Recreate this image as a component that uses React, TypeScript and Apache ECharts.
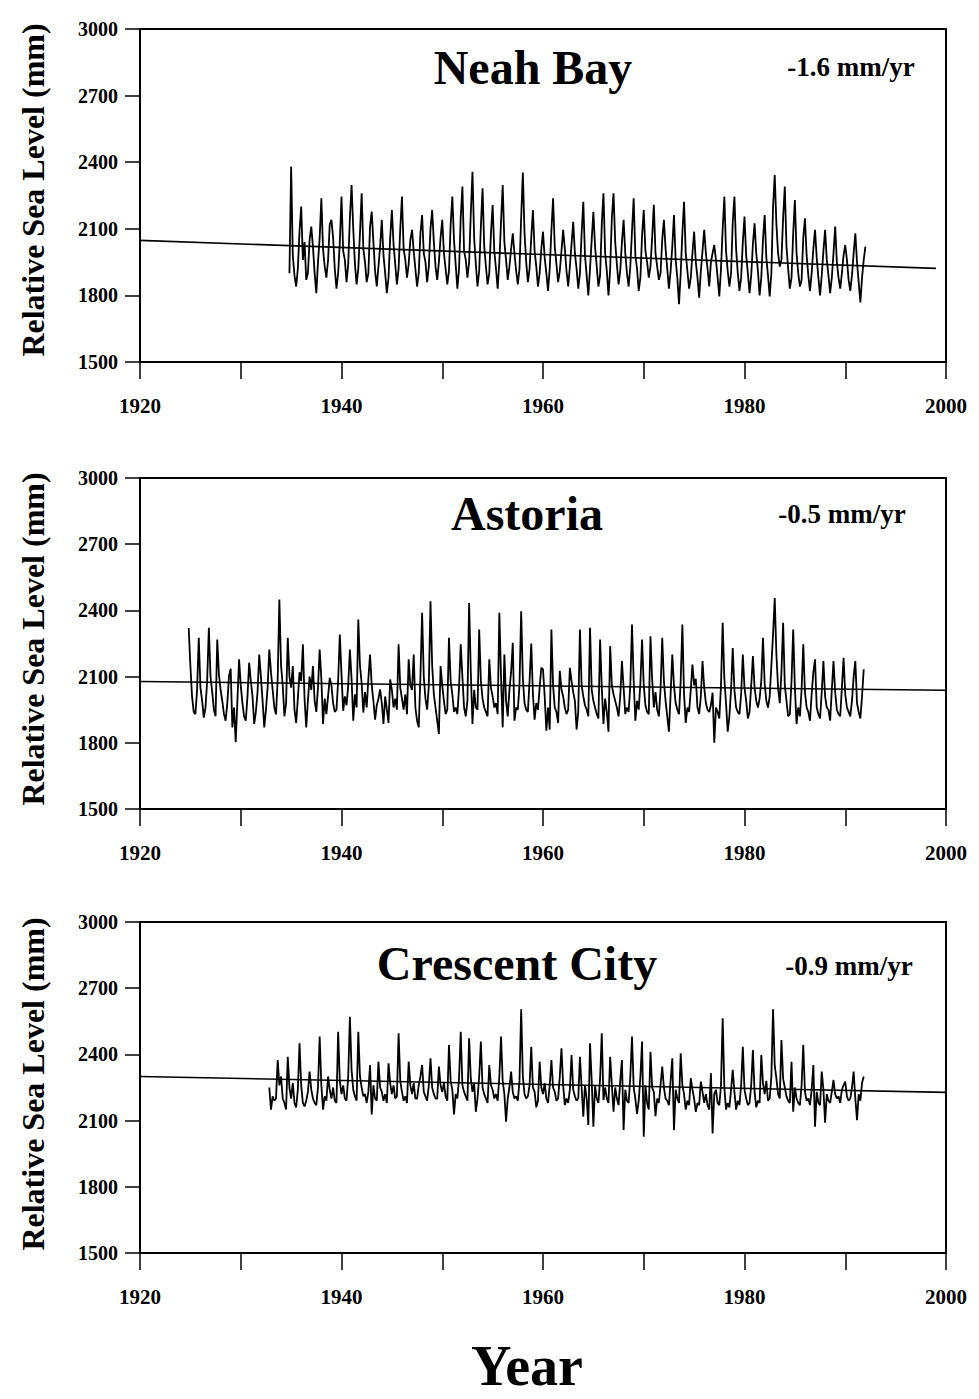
import React, { useEffect, useRef } from "react";
import * as echarts from "echarts";

// Monthly-ish sea level readings (mm), six per year: Jan, Mar, May, Jul, Sep, Nov.
// null marks months before a record begins.
const neahBayStart = 1934;
const neahBayRows: (number | null)[][] = [
  [null, null, null, null, null, 1900],
  [2380, 1980, 1890, 1840, 1920, 2090],
  [2200, 1960, 2040, 1870, 1900, 2050],
  [2110, 2020, 1900, 1810, 1950, 2060],
  [2238, 2010, 1930, 1880, 1960, 2120],
  [2140, 2060, 1920, 1830, 1900, 2040],
  [2245, 2000, 1960, 1860, 1940, 2150],
  [2297, 2100, 1940, 1850, 1920, 2080],
  [2260, 2010, 1950, 1860, 1900, 2110],
  [2177, 2040, 1910, 1840, 1930, 2020],
  [2140, 1980, 1900, 1810, 1880, 2060],
  [2185, 2030, 1940, 1850, 1920, 2100],
  [2245, 2010, 1960, 1880, 1940, 2050],
  [2095, 2000, 1920, 1840, 1900, 2080],
  [2162, 1990, 1950, 1860, 1930, 2100],
  [2185, 2040, 1930, 1870, 1950, 2060],
  [2140, 1990, 1920, 1850, 1910, 2120],
  [2245, 2050, 1940, 1830, 1920, 2150],
  [2290, 2000, 1960, 1880, 1950, 2170],
  [2357, 2060, 1940, 1840, 1910, 2110],
  [2282, 2020, 1930, 1850, 1900, 2080],
  [2207, 2000, 1920, 1830, 1950, 2130],
  [2297, 2040, 1960, 1870, 1930, 2010],
  [2080, 1990, 1910, 1850, 1920, 2150],
  [2353, 2080, 1950, 1860, 1920, 2060],
  [2185, 2000, 1930, 1840, 1900, 2010],
  [2087, 1970, 1900, 1820, 1920, 2090],
  [2237, 2020, 1940, 1860, 1910, 2000],
  [2095, 2010, 1910, 1840, 1930, 2030],
  [2132, 1990, 1920, 1830, 1900, 2080],
  [2222, 1980, 1890, 1800, 1920, 2050],
  [2177, 2020, 1930, 1840, 1890, 2120],
  [2260, 1990, 1910, 1800, 1920, 2150],
  [2260, 2040, 1940, 1850, 1910, 2040],
  [2140, 1990, 1900, 1840, 1930, 2090],
  [2237, 1980, 1920, 1820, 1880, 2070],
  [2185, 2000, 1950, 1880, 1930, 2060],
  [2208, 1990, 1930, 1870, 1900, 2050],
  [2140, 2010, 1920, 1830, 1910, 2020],
  [2162, 1960, 1880, 1760, 1900, 2080],
  [2222, 1990, 1910, 1830, 1880, 1990],
  [2087, 1950, 1880, 1790, 1910, 2000],
  [2095, 1990, 1920, 1840, 1950, 1990],
  [2027, 1960, 1880, 1795, 1920, 2100],
  [2245, 2000, 1910, 1840, 1900, 2130],
  [2245, 2010, 1900, 1820, 1880, 2040],
  [2155, 1980, 1900, 1810, 1890, 2030],
  [2125, 1990, 1910, 1800, 1880, 2050],
  [2162, 1970, 1890, 1795, 1900, 2200],
  [2342, 2120, 1990, 1930, 1960, 2150],
  [2290, 2020, 1920, 1830, 1880, 2080],
  [2230, 1990, 1900, 1840, 1870, 2060],
  [2147, 1980, 1890, 1820, 1900, 2010],
  [2095, 1970, 1880, 1800, 1890, 2000],
  [2095, 1960, 1890, 1810, 1880, 1990],
  [2110, 1950, 1880, 1830, 1900, 1980],
  [2027, 1960, 1870, 1820, 1890, 1990],
  [2080, 1950, 1860, 1768, 1880, 1960],
  [2020],
];

const astoriaStart = 1924;
const astoriaRows: (number | null)[][] = [
  [null, null, null, null, null, 2320],
  [2150, 2010, 1940, 1930, 2040, 2276],
  [2050, 1990, 1914, 1960, 2080, 2321],
  [2100, 2030, 1950, 1920, 2268, 2110],
  [2040, 1990, 1930, 1900, 1980, 2102],
  [2136, 1870, 1960, 1803, 1990, 2178],
  [2060, 1980, 1920, 1900, 2010, 2163],
  [2080, 2010, 1885, 1940, 2030, 2200],
  [2100, 1990, 1870, 1950, 2050, 2223],
  [2120, 2040, 1960, 1929, 2090, 2449],
  [2150, 2060, 1920, 1980, 2276, 2100],
  [2050, 2148, 1950, 1890, 2000, 2120],
  [2080, 2246, 2000, 1870, 1990, 2100],
  [2040, 2148, 1990, 1940, 2050, 2223],
  [2090, 1885, 2000, 1930, 2010, 2094],
  [2060, 1980, 1940, 1950, 2080, 2291],
  [2110, 1945, 2010, 1970, 2060, 2223],
  [2090, 1900, 2020, 1960, 2359, 2150],
  [2070, 1937, 2030, 1960, 2090, 2200],
  [2060, 1990, 1905, 1970, 2000, 2042],
  [1980, 1885, 2010, 1950, 1890, 2087],
  [2040, 1960, 2000, 1950, 2246, 2050],
  [2000, 1950, 2020, 1930, 2178, 2060],
  [2040, 2200, 1960, 1900, 1870, 2100],
  [2389, 2100, 2000, 1950, 2060, 2441],
  [2150, 2020, 1960, 1900, 1840, 2148],
  [2060, 1990, 1930, 1950, 2276, 2080],
  [2020, 1940, 1960, 1930, 2050, 2246],
  [2100, 1960, 1920, 1990, 2434, 2120],
  [1885, 2040, 1960, 1950, 2313, 2080],
  [2000, 1960, 1940, 1920, 2178, 2050],
  [2010, 1960, 1980, 1930, 2389, 2100],
  [1870, 2200, 1990, 1920, 2040, 2120],
  [2253, 1900, 1960, 1950, 2060, 2396],
  [2090, 1980, 1950, 1940, 2080, 2250],
  [2020, 1905, 1980, 1950, 2050, 2140],
  [2133, 2010, 1855, 1960, 1860, 2313],
  [2060, 1960, 1940, 1890, 2126, 2040],
  [2010, 1960, 1930, 1950, 2140, 2080],
  [2030, 1990, 1860, 1940, 2313, 2060],
  [2010, 1970, 1950, 1920, 2321, 2040],
  [1990, 1960, 1930, 1910, 2268, 2050],
  [1885, 2000, 1940, 1850, 2238, 2060],
  [2020, 1990, 1960, 1920, 2010, 2170],
  [2050, 1930, 1960, 1940, 2060, 2336],
  [2080, 1900, 1990, 1950, 2070, 2268],
  [2060, 1970, 1940, 1930, 2283, 2090],
  [1960, 2030, 1950, 1920, 2040, 2276],
  [2080, 1990, 1920, 1850, 2020, 2200],
  [2060, 1980, 1950, 1930, 2080, 2336],
  [2020, 1890, 1960, 1940, 2040, 2155],
  [2060, 2090, 1960, 1930, 2010, 2170],
  [2050, 1980, 1950, 1940, 1970, 2027],
  [1800, 1960, 1940, 1910, 2060, 2344],
  [2090, 1980, 1850, 1920, 2040, 2230],
  [2040, 1960, 1940, 1930, 2020, 2200],
  [2050, 1990, 1910, 1940, 2060, 2193],
  [2050, 1990, 1960, 2000, 2080, 2276],
  [2070, 1990, 1960, 2010, 2150, 2290],
  [2456, 2200, 2050, 1980, 2120, 2344],
  [2060, 1990, 1920, 1930, 2080, 2313],
  [2050, 1885, 1960, 1920, 2040, 2246],
  [2030, 1960, 1940, 1900, 2020, 2120],
  [2178, 1960, 1930, 1910, 2030, 2170],
  [2010, 1960, 1950, 1900, 2040, 2170],
  [2030, 1950, 1930, 1920, 2050, 2185],
  [2020, 1960, 1940, 1920, 1990, 2100],
  [2170, 1980, 1940, 1910, 2010, 2133],
];

const crescentCityStart = 1932;
const crescentCityRows: (number | null)[][] = [
  [null, null, null, null, null, 2250],
  [2150, 2210, 2190, 2200, 2374, 2260],
  [2300, 2200, 2180, 2150, 2389, 2250],
  [2200, 2270, 2180, 2160, 2240, 2450],
  [2260, 2180, 2164, 2190, 2230, 2322],
  [2240, 2200, 2180, 2170, 2250, 2481],
  [2260, 2150, 2210, 2190, 2300, 2240],
  [2200, 2250, 2190, 2180, 2503, 2280],
  [2220, 2260, 2200, 2190, 2300, 2571],
  [2330, 2240, 2210, 2190, 2503, 2300],
  [2250, 2210, 2220, 2180, 2230, 2352],
  [2128, 2260, 2200, 2190, 2367, 2250],
  [2230, 2190, 2220, 2180, 2360, 2270],
  [2220, 2260, 2200, 2210, 2496, 2280],
  [2230, 2190, 2210, 2180, 2367, 2260],
  [2220, 2270, 2200, 2200, 2260, 2300],
  [2352, 2230, 2210, 2190, 2260, 2382],
  [2250, 2220, 2200, 2200, 2345, 2260],
  [2230, 2270, 2210, 2190, 2443, 2280],
  [2240, 2128, 2220, 2200, 2290, 2503],
  [2260, 2230, 2210, 2190, 2473, 2290],
  [2230, 2270, 2140, 2200, 2300, 2458],
  [2250, 2220, 2200, 2180, 2352, 2260],
  [2240, 2200, 2220, 2190, 2300, 2481],
  [2280, 2220, 2095, 2200, 2250, 2322],
  [2230, 2200, 2210, 2190, 2280, 2604],
  [2300, 2220, 2200, 2210, 2260, 2435],
  [2250, 2230, 2160, 2190, 2367, 2250],
  [2220, 2270, 2200, 2180, 2260, 2374],
  [2250, 2230, 2190, 2200, 2300, 2428],
  [2260, 2170, 2200, 2180, 2240, 2397],
  [2240, 2210, 2190, 2200, 2389, 2250],
  [2118, 2260, 2200, 2080, 2450, 2280],
  [2072, 2260, 2200, 2180, 2290, 2496],
  [2193, 2250, 2200, 2180, 2389, 2260],
  [2140, 2250, 2200, 2170, 2280, 2374],
  [2057, 2240, 2190, 2180, 2300, 2481],
  [2250, 2200, 2130, 2190, 2300, 2458],
  [2027, 2260, 2180, 2150, 2412, 2250],
  [2230, 2120, 2200, 2180, 2260, 2345],
  [2250, 2200, 2190, 2170, 2280, 2382],
  [2057, 2240, 2200, 2180, 2405, 2260],
  [2220, 2150, 2190, 2170, 2292, 2240],
  [2200, 2140, 2180, 2170, 2277, 2230],
  [2180, 2220, 2170, 2150, 2315, 2042],
  [2220, 2240, 2180, 2170, 2260, 2564],
  [2250, 2150, 2180, 2160, 2240, 2330],
  [2230, 2150, 2190, 2170, 2260, 2435],
  [2240, 2200, 2170, 2180, 2260, 2420],
  [2230, 2160, 2190, 2180, 2397, 2270],
  [2220, 2280, 2190, 2200, 2300, 2604],
  [2350, 2290, 2220, 2200, 2465, 2290],
  [2250, 2210, 2190, 2180, 2367, 2140],
  [2250, 2200, 2180, 2170, 2260, 2443],
  [2230, 2190, 2200, 2170, 2240, 2352],
  [2072, 2230, 2180, 2170, 2322, 2240],
  [2090, 2220, 2190, 2180, 2230, 2284],
  [2220, 2200, 2210, 2180, 2240, 2260],
  [2277, 2210, 2190, 2200, 2250, 2322],
  [2200, 2102, 2220, 2190, 2270, 2300],
];

// Station names, linear trends (mm/yr) and trend-line anchors
const stationNames = ["Neah Bay", "Astoria", "Crescent City"];
const trendRates = [-1.6, -0.5, -0.9];
const trendStartValues = [2048, 2078, 2300]; // value at 1920
const trendEndYears = [1999, 2000, 2000];

// Axis ticks
const yearMin = 1920;
const yearMax = 2000;
const yearTickStep = 10;
const yearLabelStep = 20;
const levelMin = 1500;
const levelMax = 3000;
const levelTickStep = 300;

const FONT = "'Liberation Serif', 'Times New Roman', Times, serif";

function toSeries(startYear: number, rows: (number | null)[][]) {
  const out: [number, number][] = [];
  rows.forEach((row, i) =>
    row.forEach((v, j) => {
      if (v != null) out.push([startYear + i + j / 6, v]);
    })
  );
  return out;
}

function trendLine(k: number): [number, number][] {
  const start = trendStartValues[k];
  const endYear = trendEndYears[k];
  return [
    [yearMin, start],
    [endYear, start + trendRates[k] * (endYear - yearMin)],
  ];
}

const panels = [
  { top: 29, height: 333, right: 33, title: { x: 533, y: 67 }, rate: { x: 851, y: 67 }, yName: 190 },
  { top: 478, height: 331, right: 33, title: { x: 527, y: 513 }, rate: { x: 842, y: 514 }, yName: 639 },
  { top: 922, height: 331, right: 33, title: { x: 517, y: 963 }, rate: { x: 849, y: 966 }, yName: 1084 },
];

export default function App() {
  const ref = useRef<HTMLDivElement>(null);

  useEffect(() => {
    if (!ref.current) return;
    const chart = echarts.init(ref.current, null, { renderer: "svg" });
    const seriesData = [
      toSeries(neahBayStart, neahBayRows),
      toSeries(astoriaStart, astoriaRows),
      toSeries(crescentCityStart, crescentCityRows),
    ];

    const grid = panels.map((p) => ({
      left: 140,
      right: p.right,
      top: p.top,
      height: p.height,
      show: true,
      borderColor: "#000",
      borderWidth: 2,
      backgroundColor: "transparent",
    }));

    const xAxis = panels.map((_, i) => ({
      gridIndex: i,
      type: "value",
      min: yearMin,
      max: yearMax,
      interval: yearTickStep,
      axisLine: { show: true, onZero: false, lineStyle: { color: "#000", width: 2 } },
      axisTick: { show: true, length: 17, lineStyle: { color: "#000", width: 1.5 } },
      splitLine: { show: false },
      axisLabel: {
        formatter: (v: number) => (v % yearLabelStep === 0 ? String(v) : ""),
        fontFamily: FONT,
        fontWeight: "bold",
        fontSize: 21,
        color: "#000",
        margin: 33,
      },
    }));

    const yAxis = panels.map((_, i) => ({
      gridIndex: i,
      type: "value",
      min: levelMin,
      max: levelMax,
      interval: levelTickStep,
      axisLine: { show: true, onZero: false, lineStyle: { color: "#000", width: 2 } },
      axisTick: { show: true, length: 15, lineStyle: { color: "#000", width: 1.5 } },
      splitLine: { show: false },
      axisLabel: {
        formatter: (v: number) => String(v),
        fontFamily: FONT,
        fontWeight: "bold",
        fontSize: 20,
        color: "#000",
        margin: 22,
      },
    }));

    const series: any[] = [];
    seriesData.forEach((d, i) => {
      series.push({
        type: "line",
        xAxisIndex: i,
        yAxisIndex: i,
        data: d,
        showSymbol: false,
        symbol: "none",
        lineStyle: { color: "#000", width: 1.8 },
        z: 2,
      });
      series.push({
        type: "line",
        xAxisIndex: i,
        yAxisIndex: i,
        data: trendLine(i),
        showSymbol: false,
        symbol: "none",
        lineStyle: { color: "#000", width: 1.6 },
        z: 3,
      });
    });

    const graphic: any[] = [];
    panels.forEach((p, i) => {
      graphic.push({
        type: "text",
        x: p.title.x,
        y: p.title.y,
        style: {
          text: stationNames[i],
          font: `bold 48px ${FONT}`,
          fill: "#000",
          textAlign: "center",
          textVerticalAlign: "middle",
        },
      });
      graphic.push({
        type: "text",
        x: p.rate.x,
        y: p.rate.y,
        style: {
          text: `${trendRates[i].toFixed(1)} mm/yr`,
          font: `bold 27px ${FONT}`,
          fill: "#000",
          textAlign: "center",
          textVerticalAlign: "middle",
        },
      });
      graphic.push({
        type: "text",
        x: 33,
        y: p.yName,
        rotation: Math.PI / 2,
        style: {
          text: "Relative Sea Level (mm)",
          font: `bold 32px ${FONT}`,
          fill: "#000",
          textAlign: "center",
          textVerticalAlign: "middle",
        },
      });
    });
    graphic.push({
      type: "text",
      x: 527,
      y: 1366,
      style: {
        text: "Year",
        font: `bold 56px ${FONT}`,
        fill: "#000",
        textAlign: "center",
        textVerticalAlign: "middle",
      },
    });

    chart.setOption({
      animation: false,
      backgroundColor: "#fff",
      grid,
      xAxis,
      yAxis,
      series,
      graphic,
    });
    return () => chart.dispose();
  }, []);

  return (
    <div
      ref={ref}
      style={{ position: "absolute", left: 0, top: 0, width: 979, height: 1399 }}
    />
  );
}
